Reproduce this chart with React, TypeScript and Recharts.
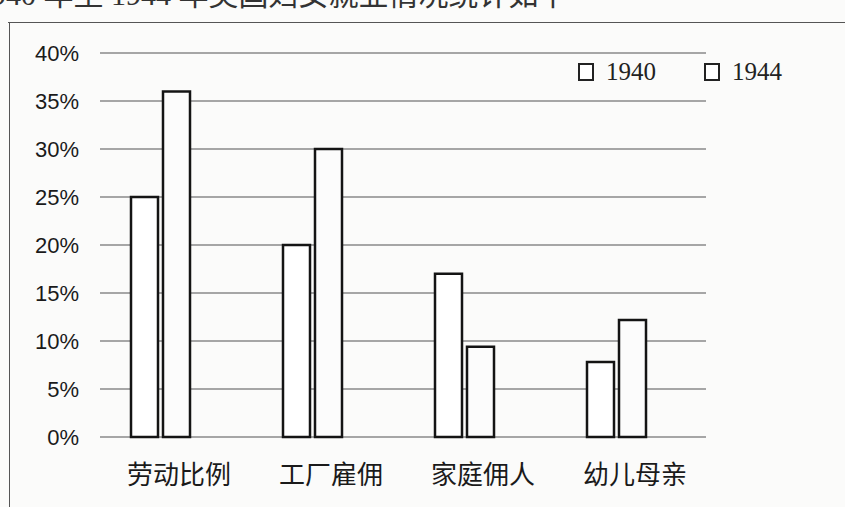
import { BarChart, Bar, XAxis, YAxis, CartesianGrid, Legend } from 'recharts';

const categories = ['劳动比例', '工厂雇佣', '家庭佣人', '幼儿母亲'];
const values1940 = [25, 20, 17, 7.8];
const values1944 = [36, 30, 9.4, 12.2];
const yTicks = [0, 5, 10, 15, 20, 25, 30, 35, 40];
const seriesNames = ['1940', '1944'];
const headerText = '1940 年至 1944 年美国妇女就业情况统计如下';

const data = categories.map((name, i) => ({
  name,
  y1940: values1940[i],
  y1944: values1944[i],
}));

// eslint-disable-next-line @typescript-eslint/no-explicit-any
function CategoryTick({ x, y, payload }: any) {
  return (
    <text
      x={x + 19}
      y={y + 45}
      textAnchor="middle"
      fontSize={26}
      fontFamily='"Noto Sans CJK SC", sans-serif'
      fill="#1a1a1a"
    >
      {payload.value}
    </text>
  );
}

// eslint-disable-next-line @typescript-eslint/no-explicit-any
function BoxLegend({ payload }: any) {
  return (
    <div style={{ display: 'flex', gap: 48 }}>
      {payload?.map((p: { value: string }) => (
        <div key={p.value} style={{ display: 'flex', alignItems: 'center', gap: 12 }}>
          <span style={{ width: 12, height: 14, border: '2px solid #222', background: '#fff' }} />
          <span style={{ fontFamily: '"Liberation Serif", serif', fontSize: 25, color: '#222' }}>{p.value}</span>
        </div>
      ))}
    </div>
  );
}

export default function App() {
  return (
    <div style={{ position: 'absolute', left: 0, top: 0, width: 845, height: 507, background: '#fbfbfa', overflow: 'hidden' }}>
      <div
        style={{
          position: 'absolute', left: -24, top: -30, whiteSpace: 'nowrap',
          fontFamily: '"Liberation Serif", "Noto Sans CJK SC", serif', fontSize: 30, color: '#333',
        }}
      >
        {headerText}
      </div>
      <div style={{ position: 'absolute', left: 8, top: 22, right: 0, borderTop: '1.5px solid #555' }} />
      <div style={{ position: 'absolute', left: 9, top: 22, bottom: 0, borderLeft: '1.5px solid #555' }} />
      <BarChart
        width={845}
        height={507}
        data={data}
        margin={{ top: 53, right: 139, left: 20, bottom: 0 }}
        barSize={27}
        barGap={5}
      >
        <CartesianGrid vertical={false} stroke="#8a8a8a" strokeWidth={1.5} />
        <XAxis
          dataKey="name"
          height={70}
          axisLine={false}
          tickLine={false}
          tickSize={0}
          padding={{ left: -16, right: 14 }}
          tick={<CategoryTick />}
        />
        <YAxis
          width={80}
          domain={[0, 40]}
          ticks={yTicks}
          axisLine={false}
          tickLine={false}
          tickSize={0}
          tickMargin={21}
          tickFormatter={(v: number) => `${v}%`}
          tick={{ fontSize: 22, fill: '#1a1a1a', fontFamily: '"Liberation Sans", Arial, sans-serif' }}
        />
        <Legend
          verticalAlign="middle"
          align="center"
          content={<BoxLegend />}
          wrapperStyle={{ position: 'absolute', left: 578, top: 58, width: 240 }}
        />
        <Bar dataKey="y1940" name={seriesNames[0]} fill="#ffffff" stroke="#141414" strokeWidth={2.5} isAnimationActive={false} />
        <Bar dataKey="y1944" name={seriesNames[1]} fill="#fcfcfc" stroke="#141414" strokeWidth={2.5} isAnimationActive={false} />
      </BarChart>
    </div>
  );
}
